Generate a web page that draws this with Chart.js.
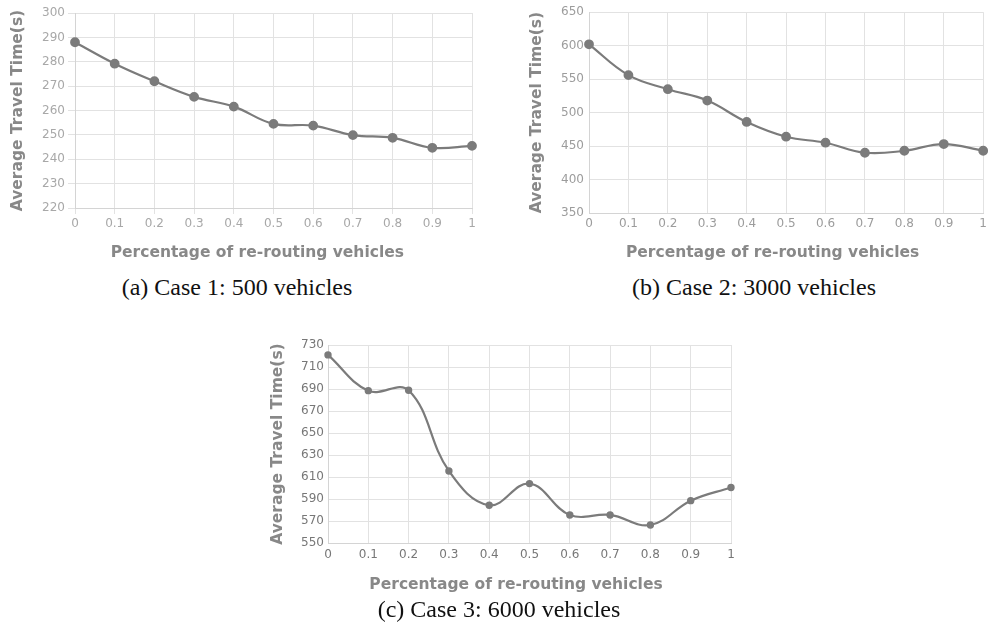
<!DOCTYPE html>
<html>
<head>
<meta charset="utf-8">
<script src="https://cdn.jsdelivr.net/npm/chart.js@4.4.1/dist/chart.umd.min.js"></script>
<style>
  body { margin: 0; background: #fff; width: 991px; height: 624px; position: relative; overflow: hidden; }
  .box { position: absolute; }
  .cap { position: absolute; font-family: "Liberation Serif", serif; font-size: 24px; color: #111; white-space: nowrap; transform: translateX(-50%); }
</style>
</head>
<body>
<div class="box" style="left:0px; top:0px;"><canvas id="chartA" width="480" height="268"></canvas></div>
<div class="box" style="left:520px; top:0px;"><canvas id="chartB" width="471" height="268"></canvas></div>
<div class="box" style="left:260px; top:330px;"><canvas id="chartC" width="481" height="270"></canvas></div>
<div class="cap" style="left:237px; top:274px;">(a) Case 1: 500 vehicles</div>
<div class="cap" style="left:754px; top:274px;">(b) Case 2: 3000 vehicles</div>
<div class="cap" style="left:499px; top:596px;">(c) Case 3: 6000 vehicles</div>
<script>
// x categories (share of re-routing vehicles)
var rerouteShare = ["0", "0.1", "0.2", "0.3", "0.4", "0.5", "0.6", "0.7", "0.8", "0.9", "1"];

// average travel time (s) per case
var case1Times = [288, 279.2, 272, 265.6, 261.6, 254.5, 253.8, 249.9, 248.8, 244.7, 245.5];
var case2Times = [602, 556, 535, 518, 486, 464, 455, 440, 443, 453, 443];
var case3Times = [721, 688.5, 688.8, 615.5, 584.3, 604, 575.5, 575.5, 566.4, 588.5, 600.5];

// y tick ranges
var case1Ticks = [220, 300, 10];
var case2Ticks = [350, 650, 50];
var case3Ticks = [550, 730, 20];

var xTitle = "Percentage of re-routing vehicles";
var yTitle = "Average Travel Time(s)";
var fam = "'DejaVu Sans', sans-serif";

function makeChart(id, values, yt, o) {
    var ctx = document.getElementById(id).getContext("2d");
    return new Chart(ctx, {
        type: 'line',
        data: {
            labels: rerouteShare,
            datasets: [{
                data: values,
                borderColor: "#7b7b7b",
                backgroundColor: "#7b7b7b",
                pointBackgroundColor: "#7b7b7b",
                pointBorderColor: "#7b7b7b",
                borderWidth: o.lineWidth,
                pointRadius: o.pointRadius,
                tension: 0.4,
                fill: false
            }]
        },
        options: {
            responsive: false,
            animation: false,
            layout: { padding: o.padding },
            plugins: {
                legend: { display: false },
                tooltip: { enabled: false }
            },
            scales: {
                x: {
                    afterFit: function (scale) { scale.height = o.xHeight; },
                    grid: { color: "#e2e2e2", drawTicks: o.xTickLen > 0, tickLength: o.xTickLen },
                    border: { color: "#d4d4d4" },
                    ticks: { color: o.tickColor, padding: o.xPad, maxRotation: 0, autoSkip: false,
                        font: { family: fam, size: 12 } },
                    title: { display: true, text: xTitle + o.shift, color: "#888",
                        padding: { top: 4, bottom: o.titlePad },
                        font: { family: fam, size: 15.5, weight: "bold" } }
                },
                y: {
                    min: yt[0],
                    max: yt[1],
                    afterFit: function (scale) { scale.width = o.yWidth; },
                    grid: { color: "#e2e2e2", drawTicks: o.yTickLen > 0, tickLength: o.yTickLen },
                    border: { color: "#d4d4d4" },
                    ticks: { stepSize: yt[2], color: o.tickColor, padding: o.yPad,
                        font: { family: fam, size: 12 } },
                    title: { display: true, text: yTitle, color: "#888",
                        font: { family: fam, size: 15.5, weight: "bold" } }
                }
            }
        }
    });
}

makeChart("chartA", case1Times, case1Ticks, {
    padding: { left: 5, top: 13, right: 8, bottom: 4 },
    xHeight: 56, yWidth: 70, xTickLen: 6, yTickLen: 7, xPad: 3, yPad: 3, titlePad: 2,
    tickColor: "#a8a8a8", pointRadius: 3.8, lineWidth: 2.2, shift: "\u00a0\u00a0\u00a0\u00a0\u00a0\u00a0"
});
makeChart("chartB", case2Times, case2Ticks, {
    padding: { left: 4, top: 11, right: 2, bottom: 4 },
    xHeight: 51, yWidth: 65, xTickLen: 0, yTickLen: 0, xPad: 4, yPad: 5, titlePad: 2,
    tickColor: "#9c9c9c", pointRadius: 3.8, lineWidth: 2.2, shift: "\u00a0\u00a0\u00a0\u00a0\u00a0"
});
makeChart("chartC", case3Times, case3Ticks, {
    padding: { left: 5, top: 15, right: 10, bottom: 4 },
    xHeight: 53, yWidth: 63, xTickLen: 0, yTickLen: 0, xPad: 5, yPad: 4, titlePad: 2,
    tickColor: "#777", pointRadius: 2.6, lineWidth: 2.2, shift: "\u00a0\u00a0\u00a0\u00a0\u00a0"
});
</script>
</body>
</html>
